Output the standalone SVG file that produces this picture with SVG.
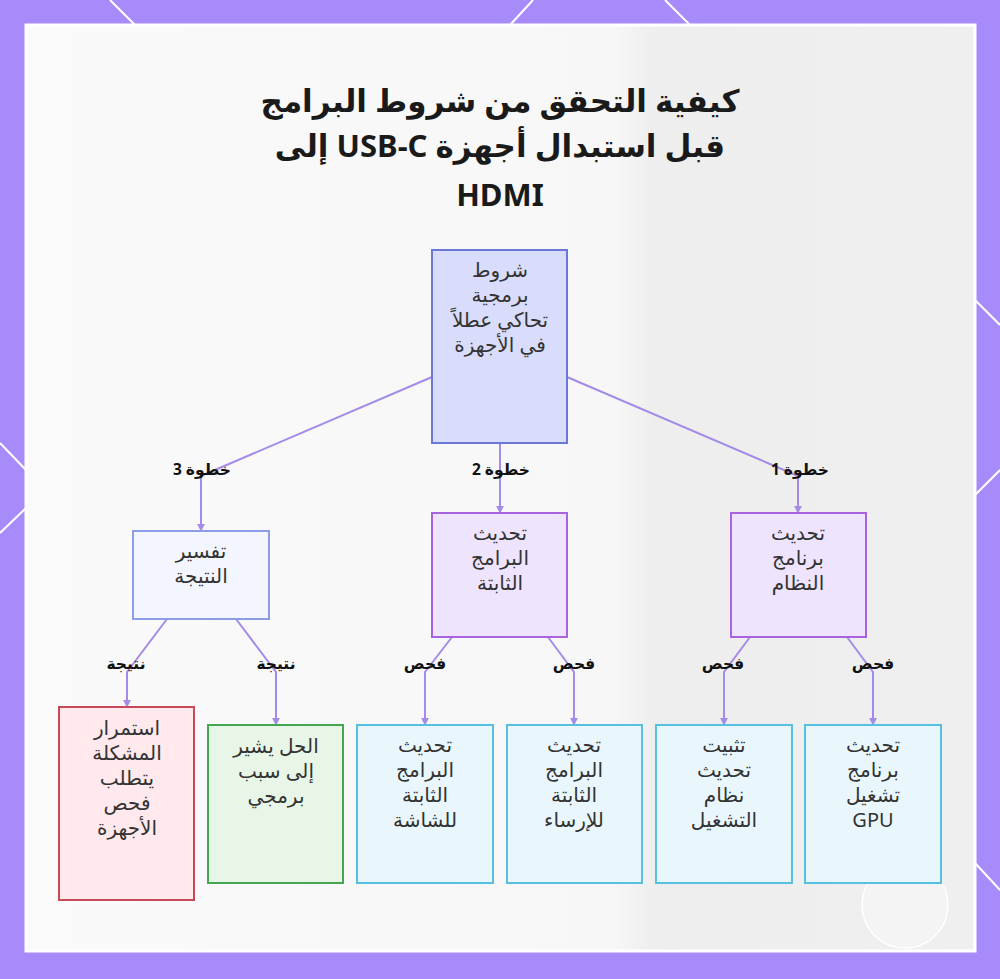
<svg xmlns="http://www.w3.org/2000/svg" width="1000" height="979" viewBox="0 0 1000 979">
<defs>
<style>
.t{font-family:"Noto Sans","DejaVu Sans",sans-serif;fill:#333;font-size:20px;text-anchor:middle;direction:rtl}
.title{font-family:"Noto Sans","DejaVu Sans",sans-serif;fill:#1a1a1a;font-size:31px;font-weight:bold;text-anchor:middle;direction:rtl}
.el{font-family:"Noto Sans","DejaVu Sans",sans-serif;fill:#111;font-size:15.5px;font-weight:bold;text-anchor:middle;direction:rtl}
.e{fill:none;stroke:#a58be8;stroke-width:2;marker-end:url(#ah)}
.deco{stroke:#fff;stroke-width:2;fill:none}
.root{fill:#d9dcfb;stroke:#6a78d6;stroke-width:2}
.mid{fill:#f4f6ff;stroke:#8c9ce6;stroke-width:2}
.step{fill:#efe4fd;stroke:#a864e0;stroke-width:2}
.leaf{fill:#e9f7fd;stroke:#55c0e0;stroke-width:2}
.red{fill:#ffe9ec;stroke:#c84a58;stroke-width:2}
.green{fill:#e8f6e8;stroke:#44a552;stroke-width:2}
</style>
<marker id="ah" viewBox="0 0 10 10" refX="9" refY="5" markerWidth="4" markerHeight="4" orient="auto">
<path d="M0,0 L10,5 L0,10 z" fill="#a58be8"/>
</marker>
<linearGradient id="bg" x1="0" y1="0" x2="1" y2="0">
<stop offset="0" stop-color="#fafafa"/>
<stop offset="0.62" stop-color="#f7f7f7"/>
<stop offset="0.66" stop-color="#eeeeee"/>
<stop offset="1" stop-color="#efefef"/>
</linearGradient>
</defs>
<rect width="1000" height="979" fill="#a78bfa"/>
<g class="deco">
<line x1="110" y1="0" x2="135" y2="25"/>
<line x1="533" y1="0" x2="510" y2="25"/>
<line x1="665" y1="0" x2="690" y2="25"/>
<line x1="0" y1="443" x2="26" y2="470"/>
<line x1="26" y1="508" x2="0" y2="533"/>
<line x1="975" y1="300" x2="1000" y2="325"/>
<line x1="975" y1="495" x2="1000" y2="470"/>
<line x1="975" y1="863" x2="1000" y2="890"/>
</g>
<rect x="26" y="25" width="949" height="926" fill="url(#bg)" stroke="#fff" stroke-width="3"/>
<circle cx="905" cy="905" r="43" fill="#f4f4f4" stroke="#fff" stroke-width="1.5"/>
<g id="title">
<text class="title" x="500" y="112">كيفية التحقق من شروط البرامج</text>
<text class="title" x="500" y="157">قبل استبدال أجهزة USB-C إلى</text>
<text class="title" x="500" y="206">HDMI</text>
</g>
<g id="connectors">
<polyline class="e" points="432,377 201,476 201,531"/>
<polyline class="e" points="500,443 500,513"/>
<polyline class="e" points="567,377 798,476 798,513"/>
<polyline class="e" points="167,619 127,672 127,707"/>
<polyline class="e" points="236,619 276,672 276,725"/>
<polyline class="e" points="452,637 425,672 425,725"/>
<polyline class="e" points="548,637 574,672 574,725"/>
<polyline class="e" points="750,637 724,672 724,725"/>
<polyline class="e" points="847,637 873,672 873,725"/>
<text class="el" x="202" y="475">خطوة 3</text>
<text class="el" x="501" y="475">خطوة 2</text>
<text class="el" x="800" y="475">خطوة 1</text>
<text class="el" x="126" y="669">نتيجة</text>
<text class="el" x="276" y="669">نتيجة</text>
<text class="el" x="425" y="669">فحص</text>
<text class="el" x="574" y="669">فحص</text>
<text class="el" x="723" y="669">فحص</text>
<text class="el" x="873" y="669">فحص</text>
</g>
<g id="root">
<rect class="root" x="432" y="250" width="135" height="193"/>
<text class="t" x="500" y="277">شروط</text>
<text class="t" x="500" y="302">برمجية</text>
<text class="t" x="500" y="327">تحاكي عطلاً</text>
<text class="t" x="500" y="352">في الأجهزة</text>
</g>
<g id="interpret">
<rect class="mid" x="133" y="531" width="136" height="88"/>
<text class="t" x="201" y="558">تفسير</text>
<text class="t" x="201" y="583">النتيجة</text>
</g>
<g id="firmware">
<rect class="step" x="432" y="513" width="135" height="124"/>
<text class="t" x="500" y="540">تحديث</text>
<text class="t" x="500" y="565">البرامج</text>
<text class="t" x="500" y="590">الثابتة</text>
</g>
<g id="system">
<rect class="step" x="731" y="513" width="135" height="124"/>
<text class="t" x="798" y="540">تحديث</text>
<text class="t" x="798" y="565">برنامج</text>
<text class="t" x="798" y="590">النظام</text>
</g>
<g id="persist">
<rect class="red" x="59" y="707" width="135" height="193"/>
<text class="t" x="127" y="735">استمرار</text>
<text class="t" x="127" y="760">المشكلة</text>
<text class="t" x="127" y="785">يتطلب</text>
<text class="t" x="127" y="810">فحص</text>
<text class="t" x="127" y="835">الأجهزة</text>
</g>
<g id="software">
<rect class="green" x="208" y="725" width="135" height="158"/>
<text class="t" x="276" y="753">الحل يشير</text>
<text class="t" x="276" y="778">إلى سبب</text>
<text class="t" x="276" y="803">برمجي</text>
</g>
<g id="monitor">
<rect class="leaf" x="357" y="725" width="136" height="158"/>
<text class="t" x="425" y="752">تحديث</text>
<text class="t" x="425" y="777">البرامج</text>
<text class="t" x="425" y="802">الثابتة</text>
<text class="t" x="425" y="827">للشاشة</text>
</g>
<g id="dock">
<rect class="leaf" x="507" y="725" width="135" height="158"/>
<text class="t" x="574" y="752">تحديث</text>
<text class="t" x="574" y="777">البرامج</text>
<text class="t" x="574" y="802">الثابتة</text>
<text class="t" x="574" y="827">للإرساء</text>
</g>
<g id="os">
<rect class="leaf" x="656" y="725" width="136" height="158"/>
<text class="t" x="724" y="752">تثبيت</text>
<text class="t" x="724" y="777">تحديث</text>
<text class="t" x="724" y="802">نظام</text>
<text class="t" x="724" y="827">التشغيل</text>
</g>
<g id="gpu">
<rect class="leaf" x="805" y="725" width="136" height="158"/>
<text class="t" x="873" y="752">تحديث</text>
<text class="t" x="873" y="777">برنامج</text>
<text class="t" x="873" y="802">تشغيل</text>
<text class="t" x="873" y="827">GPU</text>
</g>
</svg>
